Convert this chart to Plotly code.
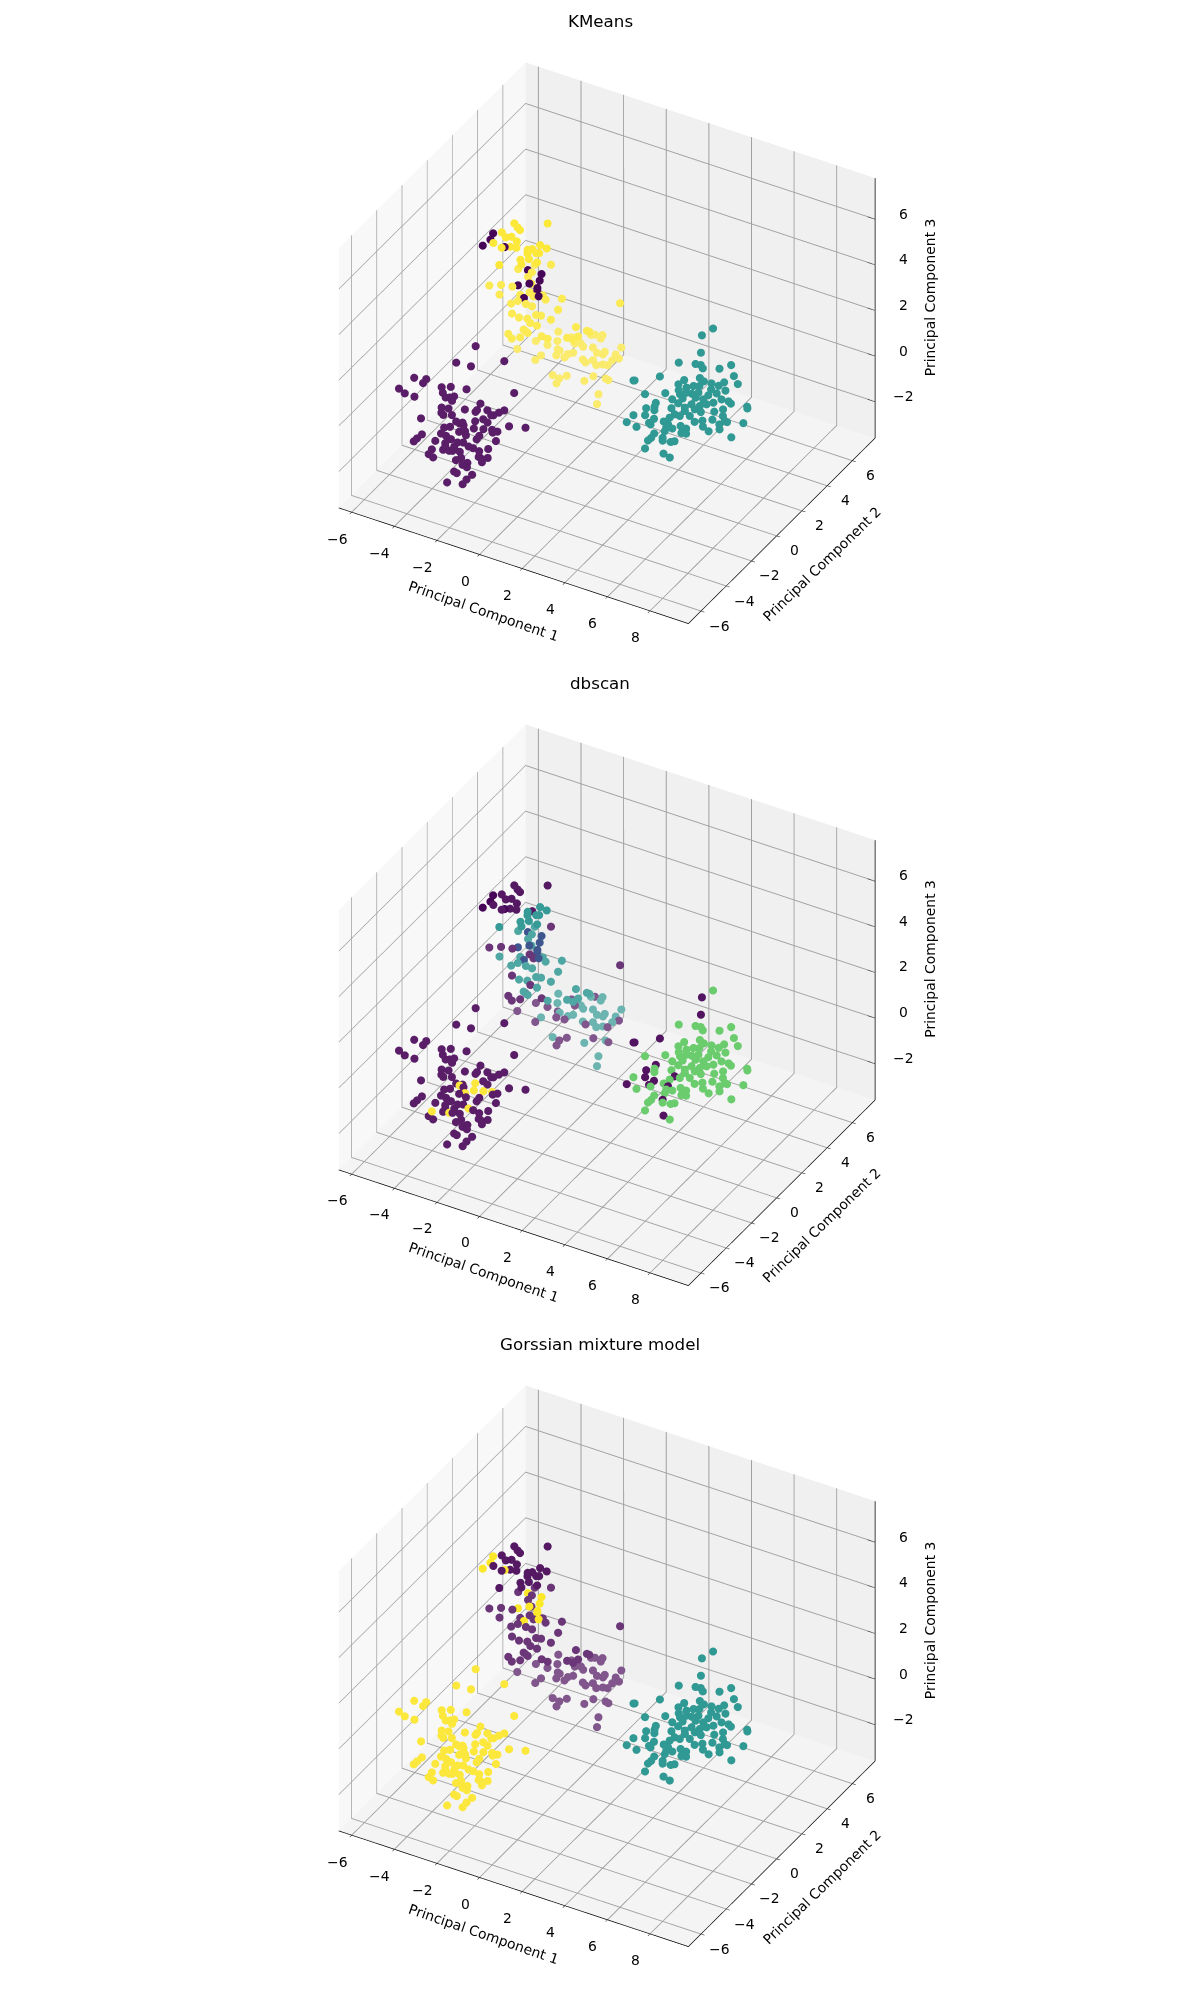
import plotly.graph_objects as go

# ---------- data (PC1, PC2, PC3) ----------
lower_x = [-5.70,-5.23,-5.20,-5.85,-5.48,-4.40,-4.09,-3.45,-1.64,-4.16,
-5.83,-4.70,-4.44,-4.56,-4.36,-3.26,-4.49,-4.21,-3.60,-3.15,-3.14,-2.78,-2.18,-2.29,-2.39,-2.47,-4.31,-4.17,-3.86,-4.83,
-2.61,-2.82,-2.34,-3.48,-3.22,-3.29,-3.09,-1.45,-0.82,-3.69,-3.51,-3.59,-4.23,-4.26,-4.27,-2.61,-2.25,-3.01,-2.83,-1.92,
-1.67,-1.80,-3.33,-2.65,-2.16,-2.13,-1.39,-3.53,-3.04,-3.10,-2.69,-2.49,-2.98,-2.66,-2.16,-1.94,-1.38,-3.35,-2.94,-2.69,
-2.28,-1.62,-2.57,
-4.10,-3.83,-2.93,-2.83,-2.24,-1.89,-1.94,-2.53,-2.43,-2.29,-2.59,-2.44,-1.84,-1.87,-1.84,-2.45,-2.15,
-3.97,-2.43,-4.07,-3.42]
lower_y = [-2.56,-2.40,-2.70,-3.51,-3.68,-2.58,-2.38,-2.21,-1.49,-2.89,
-2.32,-1.75,-1.52,-1.67,-1.82,-1.43,-2.43,-2.35,-2.09,-1.89,-2.02,-1.69,-1.36,-1.60,-1.87,-1.91,-2.75,-2.84,-2.68,-3.49,
-2.31,-2.59,-2.42,-2.98,-2.92,-3.03,-3.06,-2.22,-1.98,-3.58,-3.42,-4.00,-4.43,-4.77,-5.01,-3.05,-2.90,-3.54,-3.38,-2.77,
-2.77,-2.92,-4.04,-3.61,-3.38,-3.64,-3.36,-4.55,-4.14,-4.49,-4.21,-4.10,-4.69,-4.52,-4.23,-4.24,-3.99,-5.13,-4.93,-4.87,
-4.72,-4.30,-4.81,
-4.11,-4.22,-3.93,-3.69,-3.29,-3.17,-3.54,-4.08,-3.87,-4.14,-4.65,-4.69,-4.49,-4.88,-5.24,-5.44,-3.31,
-0.61,-0.94,-1.98,-1.91]
lower_z = [-0.05,-0.05,-0.05,-0.05,-0.05,-0.05,-0.05,-0.05,-0.05,-0.05,
-1.05,-1.05,-1.05,-1.05,-1.05,-1.05,-1.05,-1.05,-1.05,-1.05,-1.05,-1.05,-1.05,-1.05,-1.05,-1.05,-1.05,-1.05,-1.05,-1.05,
-1.05,-1.05,-1.05,-1.05,-1.05,-1.05,-1.05,-1.05,-1.05,-1.05,-1.05,-1.05,-1.05,-1.05,-1.05,-1.05,-1.05,-1.05,-1.05,-1.05,
-1.05,-1.05,-1.05,-1.05,-1.05,-1.05,-1.05,-1.05,-1.05,-1.05,-1.05,-1.05,-1.05,-1.05,-1.05,-1.05,-1.05,-1.05,-1.05,-1.05,
-1.05,-1.05,-1.05,
-2.05,-2.05,-2.05,-2.05,-2.05,-2.05,-2.05,-2.05,-2.05,-2.05,-2.05,-2.05,-2.05,-2.05,-2.05,-2.05,-2.05,
0.8,0.8,0.8,0.8]

right_x = [4.37,3.94,4.58,4.80,4.99,5.59,5.87,5.55,5.97,2.96,2.21,3.94,4.42,4.68,5.43,5.36,5.02,3.89,4.48,4.69,
4.29,4.11,5.77,3.74,3.06,4.30,4.69,5.22,5.56,5.33,4.20,4.54,4.97,5.30,5.94,6.26,3.75,3.84,3.60,3.81,
3.96,4.55,5.06,5.41,5.77,6.42,4.49,4.94,5.35,5.66,6.12,6.35,7.10,7.17,3.40,3.41,3.92,4.25,4.22,4.33,
4.82,4.76,5.06,5.41,4.69,6.58,6.34,6.02,5.79,6.75,6.94,7.55,4.94,4.99,5.24,5.44,5.73,4.26,6.25,5.81,
4.91,5.10,3.97,4.02,4.00,4.42,4.52,6.82,4.96,4.85,4.18,5.01,5.37,6.93,4.47,4.89,5.59,5.06,6.82,2.98,
3.94,3.79]
right_y = [3.16,2.13,2.38,2.42,2.26,2.57,3.02,3.78,3.38,2.29,1.55,2.56,2.99,2.87,3.21,2.90,2.90,2.19,2.39,2.50,
2.15,1.84,2.74,1.40,0.94,1.62,1.89,2.53,2.40,2.12,1.17,1.42,1.73,1.78,2.14,2.16,0.63,0.38,0.12,-0.32,
0.16,1.05,1.25,1.32,1.78,2.07,0.62,0.92,1.02,0.97,1.26,1.57,2.21,2.11,-0.55,-1.10,-1.19,-0.36,-0.70,-0.77,
0.32,0.02,0.32,0.52,-0.33,1.17,0.74,0.49,0.26,0.60,0.89,1.15,-0.41,-0.64,-0.58,-0.26,-0.31,0.48,0.14,1.34,
0.70,0.75,0.13,-0.19,-0.41,0.04,-0.13,1.43,0.07,-0.05,-0.95,-0.89,-1.00,0.31,1.85,2.08,1.55,0.72,0.91,0.16,
4.85,4.22]
right_z = [1.02,1.02,1.02,1.02,1.02,1.02,1.02,0.02,0.02,0.02,0.02,0.02,0.02,0.02,0.02,0.02,0.02,0.02,0.02,0.02,
0.02,0.02,0.02,0.02,0.02,0.02,0.02,0.02,0.02,0.02,0.02,0.02,0.02,0.02,0.02,0.02,0.02,0.02,0.02,0.02,
0.02,0.02,0.02,0.02,0.02,0.02,0.02,0.02,0.02,0.02,0.02,0.02,0.02,0.02,0.02,0.02,0.02,0.02,0.02,0.02,
0.02,0.02,0.02,0.02,0.02,0.02,0.02,0.02,0.02,0.02,0.02,0.02,0.02,0.02,0.02,0.02,0.02,-0.98,0.02,-0.98,
-0.98,-0.98,-0.98,-0.98,-0.98,-0.98,-0.98,-0.98,-0.98,-0.98,-0.98,-0.98,-0.98,0.02,0.02,0.02,0.02,0.02,0.02,1.02,
1.02,1.02]

upper_x = [-3.85,-3.59,-3.41,-2.67,-3.97,-3.65,-3.47,-3.12,-3.89,-3.43,-3.17,-2.91,-2.44,-2.30,-2.17,-1.82,-2.02,-1.92,-2.32,-2.07,
-2.34,-2.14,-2.90,-1.66,
-2.59,-3.16,-3.59,-2.99,-2.96,-4.02,-3.63,-3.17,-2.61,-3.34,-2.60,-2.36,-2.08,-1.79,-1.00,-2.47,-2.61,-2.08,-1.78,-1.54,
1.21,-0.74,-2.23,-1.84,-1.33,-1.13,-1.51,-0.64,-1.25,-0.92,0.50,-1.64,-1.25,-0.99,-1.35,-1.10,-0.38,-0.08,1.02,1.14,
0.57,0.91,0.85,
-2.39,-1.21,0.05,0.19,0.47,0.53,-0.54,-1.67,-0.91,-0.21,0.00,-2.04,-1.12,-0.60,-0.49,1.57,0.20,0.57,1.14,0.90,
0.06,-0.08,-0.98,-1.02,-0.44,-0.08,0.64,0.84,1.02,1.17,1.62,1.88,1.70,1.31,1.52,1.71,0.13,0.65,0.48,0.56,
1.45,1.60,2.12,2.27,2.42,2.72]
upper_y = [2.25,2.07,1.96,2.90,1.46,1.24,1.39,1.22,0.66,0.54,0.77,0.83,0.93,1.06,1.46,1.39,0.90,0.96,0.71,0.40,
0.19,-0.07,-0.54,0.36,
3.03,2.71,2.12,2.19,1.84,0.56,0.83,0.95,1.51,0.22,0.61,0.95,0.79,1.03,1.21,0.20,-0.09,0.18,0.16,0.83,
2.09,0.47,-0.67,-0.77,-0.28,-0.22,-0.67,-0.27,-0.87,-0.90,-0.21,-1.96,-1.40,-1.52,-2.17,-1.93,-1.44,-1.47,-0.22,-0.23,
-1.03,-0.73,-1.03,
0.67,1.28,1.74,1.82,1.95,1.71,1.20,0.28,0.70,0.90,1.02,-0.57,0.27,0.21,0.17,1.58,0.87,1.02,0.99,0.78,
0.31,0.13,-0.48,-0.87,-0.18,-0.14,0.10,-0.02,0.26,0.80,1.05,0.87,0.64,0.03,0.20,0.25,-1.43,-1.19,-1.50,-1.85,
-1.15,-0.69,-0.59,-0.63,-1.67,-2.29]
upper_z = [4.65,4.65,4.65,4.65,4.65,4.65,4.65,4.65,4.65,4.65,4.65,4.65,4.65,4.65,4.65,4.65,4.65,4.65,4.65,4.65,4.65,4.65,4.65,4.65,
2.8,2.8,2.8,2.8,2.8,2.8,2.8,2.8,2.8,2.8,2.8,2.8,2.8,2.8,2.8,2.8,2.8,2.8,2.8,2.8,2.8,2.8,2.8,2.8,2.8,2.8,2.8,2.8,2.8,2.8,2.8,2.8,2.8,2.8,2.8,2.8,2.8,2.8,2.8,2.8,2.8,2.8,2.8,
1.25,1.25,1.25,1.25,1.25,1.25,1.25,1.25,1.25,1.25,1.25,1.25,1.25,1.25,1.25,1.25,1.25,1.25,1.25,1.25,1.25,1.25,1.25,1.25,1.25,1.25,1.25,1.25,1.25,1.25,1.25,1.25,1.25,1.25,1.25,1.25,1.25,1.25,1.25,1.25,1.25,1.25,1.25,1.25,1.25,1.25]

core_x = [-4.24,-4.11,-4.17,-3.35,-3.21,-2.59,-2.42,-2.68,-3.02,-2.24,-1.90,-2.36,-2.16]
core_y = [1.23,0.80,0.29,0.64,2.25,2.28,1.85,1.47,1.14,1.36,0.89,0.50,1.22]
core_z = [4.65,4.65,4.65,4.65,2.8,2.8,2.8,2.8,2.8,2.8,2.8,2.8,2.8]

# DBSCAN exceptions, as positions inside each group
lower_dbscan_small = [31,35,45,46,48,49,64,67,69]
right_dbscan_noise = [0,10,9,36,38,39,55,58,57,60,72,85,91,99,101]
upper_dbscan_noise = [0,1,2,3,4,5,6,7,8,9,10,11,13,24,29,30,31,35,36,46,52,55,58,59,67,60,44,73,70,74,79,76,80,78,
                      91,90,92,94,102,98,105,104,108,106,110]
core_dbscan_noise = [0,1,2,3]

titles = ["KMeans", "dbscan", "Gorssian mixture model"]
x_ticks = [-6, -4, -2, 0, 2, 4, 6, 8]
y_ticks = [-6, -4, -2, 0, 2, 4, 6]
z_ticks = [-2, 0, 2, 4, 6]
axis_titles = ["Principal Component 1", "Principal Component 2", "Principal Component 3"]

# ---------- assemble ----------
pc1 = lower_x + right_x + upper_x + core_x
pc2 = lower_y + right_y + upper_y + core_y
pc3 = lower_z + right_z + upper_z + core_z
n_lo, n_ri, n_up, n_co = len(lower_x), len(right_x), len(upper_x), len(core_x)

kmeans = [0] * n_lo + [1] * n_ri + [2] * n_up + [0] * n_co
gmm = [2] * n_lo + [1] * n_ri + [0] * n_up + [2] * n_co
db_lo = [3 if i in lower_dbscan_small else -1 for i in range(n_lo)]
db_ri = [-1 if i in right_dbscan_noise else 2 for i in range(n_ri)]
db_up = [-1 if i in upper_dbscan_noise else 1 for i in range(n_up)]
db_co = [-1 if i in core_dbscan_noise else 0 for i in range(n_co)]
dbscan = db_lo + db_ri + db_up + db_co

RGB = {"p": (68, 1, 84), "b": (59, 82, 139), "t": (33, 145, 140), "g": (94, 201, 98), "y": (253, 231, 37)}
maps = [
    {0: "p", 1: "t", 2: "y"},
    {-1: "p", 0: "b", 1: "t", 2: "g", 3: "y"},
    {0: "p", 1: "t", 2: "y"},
]
alpha_lo = 0.88
alpha_ri = 0.92
alpha_up = {4.65: 0.9, 2.8: 0.78, 1.25: 0.65}
alphas = [alpha_lo] * n_lo + [alpha_ri] * n_ri + [alpha_up[z] for z in upper_z] + [0.98] * n_co
BG = 245


def colours(labels, cmap):
    out = []
    for l, a in zip(labels, alphas):
        r, g, b = RGB[cmap[l]]
        out.append("rgb(%d,%d,%d)" % (a * r + (1 - a) * BG, a * g + (1 - a) * BG, a * b + (1 - a) * BG))
    return out


W, H = 1200, 2000
PANEL_STEP = 661.5
BOX = 640
CX, CY = 599, 335
TITLE_Y = 13
TITLE_X = 592
XR, YR, ZR = [-6.6, 9.8], [-7.0, 7.8], [-3.6, 7.8]
TICK_FONT = dict(family="DejaVu Sans", size=13.9, color="black")


def axis(ticks, rng, bg, line=True):
    return dict(
        title=dict(text=""), range=rng, autorange=False, tickvals=ticks, showticklabels=False,
        showbackground=True, backgroundcolor=bg,
        gridcolor="#a0a0a0", gridwidth=2, zeroline=False, showspikes=False,
        showline=line, linecolor="black", linewidth=1.5,
        ticks="outside" if line else "", ticklen=4, tickcolor="black",
    )


def text3d(x, y, z, t, dx, dy, angle=0):
    return dict(x=x, y=y, z=z, text=str(t).replace("-", "\u2212"), showarrow=False, font=TICK_FONT,
                textangle=angle, xanchor="center", yanchor="middle", xshift=dx, yshift=dy)


def scene_texts():
    out = [text3d(t, YR[0], ZR[0], t, -14.5, -26.5) for t in x_ticks]
    out += [text3d(XR[1], t, ZR[0], t, 18, -14.5) for t in y_ticks]
    out += [text3d(XR[1], YR[1], t, t, 28, 5.5) for t in z_ticks]
    out.append(text3d(sum(XR) / 2, YR[0], ZR[0], axis_titles[0], -30, -45, 19))
    out.append(text3d(XR[1], sum(YR) / 2, ZR[0], axis_titles[1], 40, -33, -44))
    out.append(text3d(XR[1], YR[1], sum(ZR) / 2, axis_titles[2], 55, 11, -90))
    return out


# right-hand z axis drawn from the tick list
zline_x, zline_y, zline_z = [XR[1], XR[1]], [YR[1], YR[1]], [ZR[0], ZR[1]]
for t in z_ticks:
    zline_x += [None, XR[1] - 0.35, XR[1]]
    zline_y += [None, YR[1], YR[1]]
    zline_z += [None, t, t]

fig = go.Figure()
annotations = []
layout = {}
for i, (title, labels) in enumerate(zip(titles, [kmeans, dbscan, gmm])):
    name = "scene" if i == 0 else f"scene{i + 1}"
    cy = CY + i * PANEL_STEP
    fig.add_trace(go.Scatter3d(
        x=pc1, y=pc2, z=pc3, mode="markers", scene=name, showlegend=False, hoverinfo="skip",
        marker=dict(size=4.7, color=colours(labels, maps[i]), line=dict(width=0)),
    ))
    fig.add_trace(go.Scatter3d(
        x=zline_x, y=zline_y, z=zline_z, mode="lines", scene=name, showlegend=False, hoverinfo="skip",
        line=dict(color="black", width=1.5),
    ))
    layout[name] = dict(
        domain=dict(x=[(CX - BOX / 2) / W, (CX + BOX / 2) / W],
                    y=[1 - (cy + BOX / 2) / H, 1 - (cy - BOX / 2) / H]),
        xaxis=axis(x_ticks, XR, "#f8f8f8"),
        yaxis=axis(y_ticks, YR, "#f0f0f0"),
        zaxis=axis(z_ticks, ZR, "#f4f4f4", line=False),
        aspectmode="manual", aspectratio=dict(x=1.261, y=1.167, z=0.992),
        camera=dict(eye=dict(x=0.692, y=-1.199, z=0.969), center=dict(x=0, y=0, z=0),
                    up=dict(x=0, y=0, z=1), projection=dict(type="orthographic")),
        annotations=scene_texts(),
    )
    annotations.append(dict(text=title, x=TITLE_X / W, y=1 - (TITLE_Y + i * PANEL_STEP) / H,
                            xref="paper", yref="paper", showarrow=False, xanchor="center", yanchor="middle",
                            font=dict(family="DejaVu Sans", size=16.7, color="black")))

fig.update_layout(width=W, height=H, autosize=False, margin=dict(l=0, r=0, t=0, b=0),
                  paper_bgcolor="white", annotations=annotations, **layout)
fig.write_html("out.html")
